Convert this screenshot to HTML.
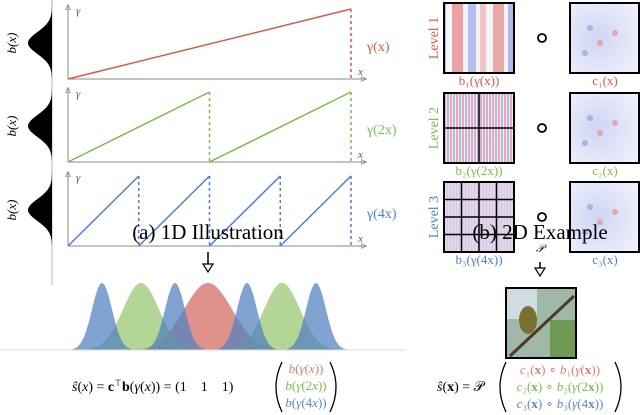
<!DOCTYPE html>
<html><head><meta charset="utf-8">
<style>
body{margin:0;background:#fff;}
svg{display:block;font-family:"Liberation Serif",serif;}
.it{font-style:italic;}
</style></head>
<body>
<svg id="fig" width="640" height="415" viewBox="0 0 640 415">
<defs>
<marker id="ah" viewBox="0 0 10 10" refX="8" refY="5" markerWidth="6" markerHeight="6" orient="auto"><path d="M0,1 L9,5 L0,9 Z" fill="none" stroke="#888" stroke-width="1.2"/></marker>
<pattern id="p1" width="70" height="70" patternUnits="userSpaceOnUse">
<rect width="70" height="70" fill="#f4f4fb"/>
<rect x="3" width="11" height="70" fill="#eba9a9"/><rect x="18" width="8" height="70" fill="#b3b9ec"/>
<rect x="32" width="11" height="70" fill="#eca2a2"/><rect x="48" width="8" height="70" fill="#b8beee"/><rect x="60" width="6" height="70" fill="#f2c6c6"/>
</pattern>
<pattern id="p2" width="6" height="6" patternUnits="userSpaceOnUse">
<rect width="6" height="6" fill="#f2eef8"/><rect width="2" height="6" fill="#eaa9ac"/><rect x="3" width="2" height="6" fill="#b3b6e8"/>
</pattern>
<pattern id="p3" width="3" height="3" patternUnits="userSpaceOnUse">
<rect width="3" height="3" fill="#dcd8f2"/><rect width="1" height="3" fill="#e3c6d6"/>
</pattern>
<radialGradient id="cb" cx="0.4" cy="0.5" r="0.7"><stop offset="0" stop-color="#cfd6f4"/><stop offset="1" stop-color="#eef0fb"/></radialGradient>
</defs>
<g id="left">
<line x1="52" y1="0" x2="52" y2="285" stroke="#bbb" stroke-width="1"/>
</g>
<g id="right"></g>
<g font-size="14">
<text x="72" y="391"><tspan class="it">ŝ</tspan>(<tspan class="it">x</tspan>) = <tspan font-weight="bold">c</tspan><tspan font-size="9" dy="-5">⊤</tspan><tspan dy="5" font-weight="bold">b</tspan>(<tspan class="it">γ</tspan>(<tspan class="it">x</tspan>)) = (1 &#160;&#160; 1 &#160;&#160; 1)</text>
<path d="M282,362 Q270,387 282,412" fill="none" stroke="#000" stroke-width="1.3"/>
<path d="M330,362 Q342,387 330,412" fill="none" stroke="#000" stroke-width="1.3"/>
<text x="306" y="373" text-anchor="middle" fill="#e07a70" font-size="13"><tspan class="it">b</tspan>(<tspan class="it">γ</tspan>(<tspan class="it">x</tspan>))</text>
<text x="306" y="390" text-anchor="middle" fill="#7cba4e" font-size="13"><tspan class="it">b</tspan>(<tspan class="it">γ</tspan>(2<tspan class="it">x</tspan>))</text>
<text x="306" y="407" text-anchor="middle" fill="#5d86cc" font-size="13"><tspan class="it">b</tspan>(<tspan class="it">γ</tspan>(4<tspan class="it">x</tspan>))</text>
</g>
<g font-size="13">
<text x="437" y="391" font-size="14"><tspan class="it">ŝ</tspan>(<tspan font-weight="bold">x</tspan>) = 𝒫</text>
<path d="M506,362 Q494,387 506,412" fill="none" stroke="#000" stroke-width="1.3"/>
<path d="M615,362 Q627,387 615,412" fill="none" stroke="#000" stroke-width="1.3"/>
<text x="560" y="374" text-anchor="middle" fill="#e07a70"><tspan class="it">c</tspan>₁(<tspan font-weight="bold">x</tspan>) ∘ <tspan class="it">b</tspan>₁(<tspan class="it">γ</tspan>(<tspan font-weight="bold">x</tspan>))</text>
<text x="560" y="391" text-anchor="middle" fill="#7cba4e"><tspan class="it">c</tspan>₂(<tspan font-weight="bold">x</tspan>) ∘ <tspan class="it">b</tspan>₂(<tspan class="it">γ</tspan>(2<tspan font-weight="bold">x</tspan>))</text>
<text x="560" y="408" text-anchor="middle" fill="#5d86cc"><tspan class="it">c</tspan>₃(<tspan font-weight="bold">x</tspan>) ∘ <tspan class="it">b</tspan>₃(<tspan class="it">γ</tspan>(4<tspan font-weight="bold">x</tspan>))</text>
</g>
</svg>
<script>
const NS="http://www.w3.org/2000/svg";
const frequencies=[1,2,4];
const seriesLabels=["γ(x)","γ(2x)","γ(4x)"];
const colors=["#d9574e","#7cba4e","#4f7fcc"];
const bottomPeaksBlue=[102,175,247,316];
const bottomPeaksGreen=[141,282];
const bottomPeaksRed=[208];
const bottomWidths=[10,18,24]; // blue, green, red sigma
const panelTops=[5,88,172];
const svg=document.getElementById('fig');
const left=document.getElementById('left');
function mk(tag,attrs,parent){const e=document.createElementNS(NS,tag);for(const k in attrs)e.setAttribute(k,attrs[k]);(parent||svg).appendChild(e);return e;}
const x0=68,x1=351,axEnd=366,panelH=74;
function sx(t){return x0+t*(x1-x0);}
frequencies.forEach((f,i)=>{
  const top=panelTops[i],base=top+panelH,yTop=top+4;
  const g=mk('g',{},left);
  
  
  let d='M52,'+(top-4);
  const cy=top+38;
  for(let y=top-4;y<=base+2;y+=1){const w=24*Math.exp(-Math.pow((y-cy)/11,2)/2);d+=' L'+(52-w)+','+y;}
  d+=' Z';
  const bell=mk('path',{d:d,fill:'#000'},g);
  
  
  const bl=mk('text',{x:0,y:0,'font-size':13,'font-style':'italic',transform:`translate(16,${cy}) rotate(-90)`,'text-anchor':'middle'},g);bl.textContent='b(x)';
  
  
  mk('line',{x1:x0,y1:base,x2:axEnd,y2:base,stroke:'#888','stroke-width':1,'marker-end':'url(#ah)'},g);
  mk('line',{x1:x0,y1:base,x2:x0,y2:top,stroke:'#888','stroke-width':1,'marker-end':'url(#ah)'},g);
  const gl=mk('text',{x:76,y:top+9,'font-size':11,'font-style':'italic',fill:'#555'},g);gl.textContent='γ';
  const xl=mk('text',{x:358,y:base-4,'font-size':11,'font-style':'italic',fill:'#555'},g);xl.textContent='x';
  for(let k=0;k<f;k++){
    const a=k/f,b=(k+1)/f;
    const ln=mk('line',{x1:sx(a),y1:base,x2:sx(b),y2:yTop,stroke:colors[i],'stroke-width':1.5},g);
    
    
    const dl=mk('line',{x1:sx(b),y1:yTop,x2:sx(b),y2:base,stroke:colors[i],'stroke-width':1.5,'stroke-dasharray':'3,3'},g);
    
    
  }
  const lab=mk('text',{x:367,y:top+46,'font-size':14,fill:colors[i]},g);lab.textContent=seriesLabels[i];
  
  
});
function arrow(x,y1,y2,name){const g=mk('g',{});
 mk('line',{x1:x,y1:y1,x2:x,y2:y2-4,stroke:'#000','stroke-width':1.5},g);
 mk('path',{d:`M${x-5},${y2-8} L${x+5},${y2-8} L${x},${y2} Z`,fill:'#fff',stroke:'#000','stroke-width':1.2},g);}
arrow(208,252,272,'down-arrow-1d');
arrow(540,262,276,'down-arrow-2d');
const baseY=350,peakY=283;
function gauss(c,s,fill,name){let d=`M0,${baseY}`;for(let x=0;x<=405;x+=1){d+=` L${x},${baseY-(baseY-peakY)*Math.exp(-Math.pow((x-c)/s,2)/2)}`;}d+=` L405,${baseY} Z`;
 const p=mk('path',{d:d,fill:fill,'fill-opacity':0.72});}
bottomPeaksRed.forEach(c=>gauss(c,bottomWidths[2],'#d2685e','red-basis-curve'));
bottomPeaksGreen.forEach(c=>gauss(c,bottomWidths[1],'#95c56d','green-basis-curve'));
bottomPeaksBlue.forEach(c=>gauss(c,bottomWidths[0],'#4f7fc0','blue-basis-curve'));
mk('line',{x1:0,y1:baseY,x2:405,y2:baseY,stroke:'#ddd','stroke-width':1});
const R=document.getElementById('right');
const levelTops=[3,93,182];
const levelFills=['url(#p1)','url(#p2)','url(#p3)'];
const grids=[1,2,4];
const bLabels=['b₁(γ(x))','b₂(γ(2x))','b₃(γ(4x))'];
const cLabels=['c₁(x)','c₂(x)','c₃(x)'];
levelTops.forEach((t,i)=>{
  const g=mk('g',{},R);
  const lt=mk('text',{x:0,y:0,'font-size':14,fill:colors[i],'text-anchor':'middle',transform:`translate(438,${t+35}) rotate(-90)`},g);lt.textContent='Level '+(i+1);
  mk('rect',{x:444,y:t,width:70,height:70,fill:levelFills[i],stroke:'#000','stroke-width':2},g);
  const n=grids[i];for(let k=1;k<n;k++){mk('line',{x1:444+70*k/n,y1:t,x2:444+70*k/n,y2:t+70,stroke:'#000','stroke-width':1.5},g);mk('line',{x1:444,y1:t+70*k/n,x2:514,y2:t+70*k/n,stroke:'#000','stroke-width':1.5},g);}
  mk('circle',{cx:542,cy:t+35,r:4,fill:'none',stroke:'#000','stroke-width':1.8},g);
  mk('rect',{x:570,y:t,width:69,height:70,fill:'url(#cb)',stroke:'#000','stroke-width':2},g);
  [[590,t+25],[600,t+40],[585,t+50],[615,t+30]].forEach((p,k)=>mk('circle',{cx:p[0],cy:p[1],r:3,fill:k%2?'#e59a9a':'#9aa6e3',opacity:0.8},g));
  const b=mk('text',{x:479,y:t+82,'font-size':13,fill:colors[i],'text-anchor':'middle'},g);b.textContent=bLabels[i];
  const c=mk('text',{x:605,y:t+82,'font-size':13,fill:colors[i],'text-anchor':'middle'},g);c.textContent=cLabels[i];
});
const P=mk('text',{x:540,y:252,'font-size':11,'text-anchor':'middle','font-style':'italic'});P.textContent='𝒫';
const bird=mk('g',{});
mk('rect',{x:506,y:288,width:70,height:70,fill:'#9fb8a8',stroke:'#000','stroke-width':2},bird);
mk('rect',{x:507,y:289,width:30,height:30,fill:'#cfdde3'},bird);
mk('rect',{x:550,y:320,width:25,height:37,fill:'#6f9a55'},bird);
mk('line',{x1:510,y1:356,x2:574,y2:296,stroke:'#4a3a2a','stroke-width':3},bird);
mk('ellipse',{cx:528,cy:320,rx:9,ry:14,fill:'#7a7030'},bird);
// titles on top
const ta=mk('text',{x:208,y:239,'font-size':21,'text-anchor':'middle'});ta.textContent='(a) 1D Illustration';


const tb=mk('text',{x:540,y:239,'font-size':21,'text-anchor':'middle'});tb.textContent='(b) 2D Example';


</script>
</body></html>
